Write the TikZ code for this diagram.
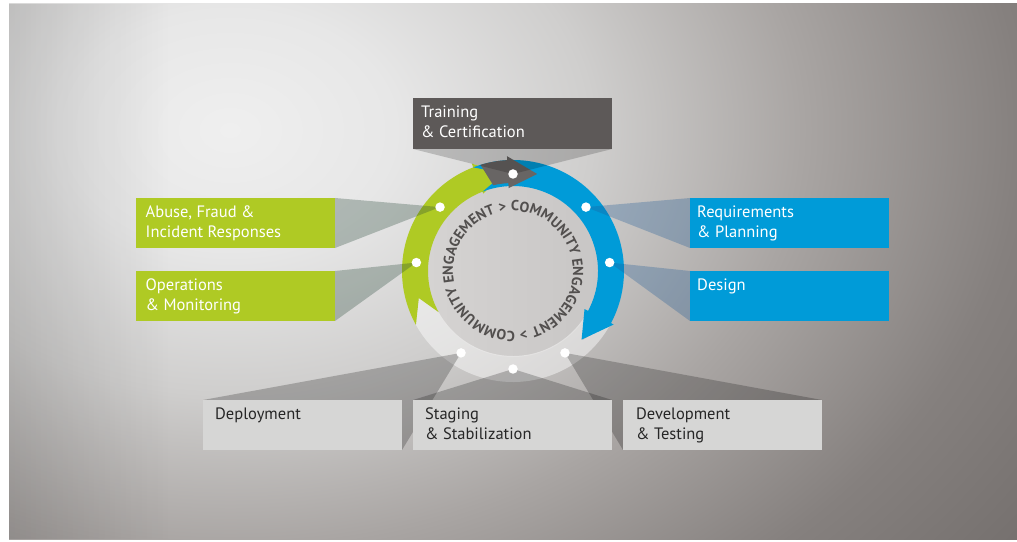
\documentclass[tikz,border=0pt]{standalone}
\usepackage{fontspec}
\setmainfont{PT Sans}
\usetikzlibrary{decorations.text,fadings}
\definecolor{cgreen}{HTML}{AFCA24}
\definecolor{cblue}{HTML}{009BD8}
\definecolor{cdark}{HTML}{5D5958}
\definecolor{clight}{HTML}{D6D6D5}
\definecolor{ctext}{HTML}{262626}
\definecolor{cring}{HTML}{524F4E}
\definecolor{cgarrow}{HTML}{686564}
\definecolor{lwedge}{RGB}{40,72,56}
\definecolor{rwedge}{RGB}{30,90,150}
\definecolor{diskA}{HTML}{D5D3D2}
\definecolor{diskB}{HTML}{C8C6C5}
\definecolor{bg0}{HTML}{EFEFEF}
\definecolor{bg1}{HTML}{E7E7E7}
\definecolor{bg2}{HTML}{CFCECD}
\definecolor{bg3}{HTML}{A9A5A3}
\definecolor{bg4}{HTML}{85807E}
\definecolor{bg5}{HTML}{6A6563}
\pgfdeclareradialshading{bgshade}{\pgfpoint{0bp}{0bp}}{color(0bp)=(bg0); color(3.75bp)=(bg1); color(8.25bp)=(bg2); color(13bp)=(bg3); color(18bp)=(bg4); color(25bp)=(bg5); color(50bp)=(bg5)}
\tikzfading[name=fadeleft, left color=transparent!88, right color=transparent!100]
\pgfdeclarelayer{back}
\pgfdeclarelayer{wedge}
\pgfsetlayers{back,wedge,main}
\newcommand{\ringfont}{\fontsize{14.5}{16}\selectfont\bfseries\color{cring}}
\tikzset{
  boxbase/.style={rectangle, minimum width=199pt, minimum height=50pt, inner sep=0pt, outer sep=0pt, draw=none},
  gbox/.style={boxbase, fill=cgreen},
  bbox/.style={boxbase, fill=cblue},
  dbox/.style={boxbase, fill=cdark},
  lbox/.style={boxbase, fill=clight},
  lbl/.style={anchor=north west, inner sep=0pt, align=left, font=\fontsize{16.5}{20}\selectfont},
  wl/.style={lbl, text=white},
  dl/.style={lbl, text=ctext},
  dot/.style={circle, fill=white, minimum size=9.5pt, inner sep=0pt},
  lw/.style={fill=lwedge, fill opacity=0.3},
  rw/.style={fill=rwedge, fill opacity=0.3},
  bw/.style={fill=black, fill opacity=0.22},
  tw/.style={fill=black, fill opacity=0.18},
  ringtext/.style={decorate, decoration={text along path, text={|\ringfont|> COMMUNITY ENGAGEMENT}, text align={fit to path}}}
}
\begin{document}
\begin{tikzpicture}[x=1pt,y=1pt]
\useasboundingbox (0,0) rectangle (1017,541);
\begin{pgfonlayer}{back}
  \fill[white] (0,0) rectangle (1017,541);
  \begin{scope}
    \clip (9,2) rectangle (1017,537);
    \shade[shading=bgshade] (230,411) ellipse [x radius=1100, y radius=800];
    \fill[black, path fading=fadeleft] (9,2) rectangle (170,537);
  \end{scope}
  \begin{scope}[shift={(513,270)}]
    \shade[left color=diskA, right color=diskB] (0,0) circle[radius=86];
    % light arrow (bottom)
    \fill[white, fill opacity=0.45] (-28:111) arc[start angle=-28, end angle=-151, radius=111] -- (-164:98) -- (-151:85) arc[start angle=-151, end angle=-28, radius=85] -- (-45:98) -- cycle;
    % green arrow
    \fill[cgreen] (209:111) arc[start angle=209, end angle=111, radius=111] -- (111:115) -- (95:98) -- (111:83) -- (111:85) arc[start angle=111, end angle=209, radius=85] -- (196:98) -- cycle;
    % blue arrow
    \fill[cblue] (111:111) arc[start angle=111, end angle=-28, radius=111] -- (-28:114) -- (-45:97) -- (-28:81) -- (-28:85) arc[start angle=-28, end angle=111, radius=85] -- (95:98) -- cycle;
    % dark arrow (top)
    \fill[cgarrow] (107:111) arc[start angle=107, end angle=93, radius=111] -- (93:115) -- (76:100) -- (93:83) -- (93:88) arc[start angle=93, end angle=103, radius=88] -- cycle;
    % ring text
    \path[ringtext] (103:60) arc[start angle=103, end angle=-73, radius=60];
    \path[ringtext] (-77:60) arc[start angle=-77, end angle=-253, radius=60];
  \end{scope}
\end{pgfonlayer}

% boxes
\node[dbox, minimum height=51pt] (train) at (512.5,417.5) {};
\node[gbox] (abuse) at (235.5,318) {};
\node[gbox] (oper) at (235.5,245) {};
\node[bbox] (req) at (789.5,318) {};
\node[bbox] (design) at (789.5,245) {};
\node[lbox] (deploy) at (302.5,116) {};
\node[lbox] (staging) at (512.5,116) {};
\node[lbox] (devel) at (722.5,116) {};

% dots
\begin{scope}[shift={(513,270)}]
  \node[dot] (dtrain) at (90:97) {};
  \node[dot] (dabuse) at (138.8:97) {};
  \node[dot] (doper) at (175:97) {};
  \node[dot] (dreq) at (41.2:97) {};
  \node[dot] (ddesign) at (5:97) {};
  \node[dot] (ddeploy) at (237.6:97) {};
  \node[dot] (dstage) at (270:98) {};
  \node[dot] (ddevel) at (302.4:97) {};
\end{scope}

% wedges
\begin{pgfonlayer}{wedge}
  \fill[tw] (dtrain.center) -- (train.south west) -- (train.south east) -- cycle;
  \fill[lw] (dabuse.center) -- (abuse.north east) -- (abuse.south east) -- cycle;
  \fill[lw] (doper.center) -- (oper.north east) -- (oper.south east) -- cycle;
  \fill[rw] (dreq.center) -- (req.north west) -- (req.south west) -- cycle;
  \fill[rw] (ddesign.center) -- (design.north west) -- (design.south west) -- cycle;
  \fill[bw] (ddeploy.center) -- (deploy.north west) -- (deploy.south east) -- cycle;
  \fill[bw] (dstage.center) -- (staging.north west) -- (staging.north east) -- cycle;
  \fill[bw] (ddevel.center) -- (devel.north east) -- (devel.south west) -- cycle;
\end{pgfonlayer}

% labels
\node[wl] (ttrain) at ([xshift=8pt,yshift=-7.5pt]train.north west) {Training\\\& Certification};
\node[wl] (tabuse) at ([xshift=9.5pt,yshift=-7.5pt]abuse.north west) {Abuse, Fraud \&\\Incident Responses};
\node[wl] (toper) at ([xshift=9.5pt,yshift=-7.5pt]oper.north west) {Operations\\\& Monitoring};
\node[wl] (treq) at ([xshift=7pt,yshift=-7.5pt]req.north west) {Requirements\\\& Planning};
\node[wl] (tdesign) at ([xshift=7pt,yshift=-7.5pt]design.north west) {Design};
\node[dl] (tdeploy) at ([xshift=12pt,yshift=-7.5pt]deploy.north west) {Deployment};
\node[dl] (tstaging) at ([xshift=12pt,yshift=-7.5pt]staging.north west) {Staging\\\& Stabilization};
\node[dl] (tdevel) at ([xshift=13pt,yshift=-7.5pt]devel.north west) {Development\\\& Testing};
\end{tikzpicture}
\end{document}
